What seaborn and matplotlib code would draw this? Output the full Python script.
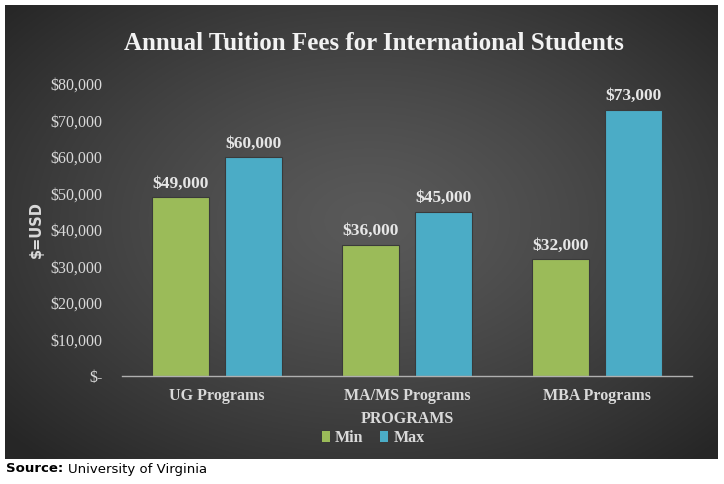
import numpy as np
import pandas as pd
import matplotlib
matplotlib.use("Agg")
import matplotlib.pyplot as plt
from matplotlib.ticker import FuncFormatter
from matplotlib.patches import Patch
import seaborn as sns

categories = ["UG Programs", "MA/MS Programs", "MBA Programs"]
series_names = ["Min", "Max"]
min_values = [49000, 36000, 32000]
max_values = [60000, 45000, 73000]
tick_values = [0, 10000, 20000, 30000, 40000, 50000, 60000, 70000, 80000]

df = pd.DataFrame({
    "program": categories * 2,
    "series": ["Min"] * 3 + ["Max"] * 3,
    "value": min_values + max_values,
})

sns.set_theme(style="white")
plt.rcParams["font.family"] = ["Liberation Serif", "DejaVu Serif"]

W, H = 724, 484
fig = plt.figure(figsize=(W / 100, H / 100), dpi=100, facecolor="white")

# dark radial gradient background panel
bg = fig.add_axes([5 / W, 1 - 459 / H, 713 / W, 454 / H])
gx, gy = np.meshgrid(np.linspace(-1, 1, 400), np.linspace(-1, 1, 260))
r = np.sqrt(((gx - 0.02) / 1.05) ** 2 + ((gy + 0.05) / 1.1) ** 2)
r = np.clip(r, 0, 1.3) / 1.3
val = 0.35 - 0.2 * r ** 1.3
bg.imshow(np.dstack([val, val, val]), aspect="auto", extent=[0, 1, 0, 1])
bg.set_axis_off()

colors = {"Min": "#9bbb59", "Max": "#4bacc6"}
ax = fig.add_axes([122 / W, 1 - 376 / H, 570 / W, 292 / H])
ax.patch.set_alpha(0)
sns.barplot(data=df, x="program", y="value", hue="series", order=categories,
            hue_order=series_names, palette=colors, width=0.774, gap=0.22,
            ax=ax, legend=False, edgecolor="#3a3a3a", linewidth=0.8, saturation=1)

ax.set_ylim(0, 80000)
ax.set_xlim(-0.5, 2.5)
ax.set_yticks(tick_values)
ax.yaxis.set_major_formatter(FuncFormatter(lambda v, p: "$-" if v == 0 else f"${v:,.0f}"))
for s in ["top", "right", "left"]:
    ax.spines[s].set_visible(False)
ax.spines["bottom"].set_color("#b0b0b0")
ax.spines["bottom"].set_linewidth(1)
ax.tick_params(axis="y", length=0, pad=14, labelsize=11.5, labelcolor="#d9d9d9")
ax.tick_params(axis="x", length=0, pad=9, labelsize=11.5, labelcolor="#d9d9d9")
for lbl in ax.get_xticklabels():
    lbl.set_fontweight("bold")
ax.set_xlabel("PROGRAMS", fontsize=11.5, fontweight="bold", color="#d9d9d9", labelpad=5)
ax.set_ylabel("$=USD", fontsize=10.5, fontweight="bold", color="#d9d9d9",
              family="DejaVu Sans", labelpad=5)
ax.grid(False)

for cont in ax.containers:
    ax.bar_label(cont, labels=[f"${v:,.0f}" for v in cont.datavalues], padding=4,
                 fontsize=12.5, fontweight="bold", color="#e6e6e6")

fig.text(374 / W, 1 - 44 / H, "Annual Tuition Fees for International Students",
         ha="center", va="center", fontsize=18, fontweight="bold", color="#f2f2f2")

handles = [Patch(facecolor=colors[s], edgecolor="none") for s in series_names]
leg = fig.legend(handles, series_names, loc="center", bbox_to_anchor=(373 / W, 1 - 438 / H),
                 ncol=2, frameon=False, handlelength=0.55, handleheight=0.75,
                 handletextpad=0.3, columnspacing=1.0,
                 prop={"weight": "bold", "size": 11.5})
for t in leg.get_texts():
    t.set_color("#d9d9d9")

fig.text(6 / W, 1 - 469 / H, "Source:", ha="left", va="center", fontsize=9.5,
         fontweight="bold", color="black", family="DejaVu Sans")
fig.text(68 / W, 1 - 469 / H, "University of Virginia", ha="left", va="center",
         fontsize=9.5, color="black", family="DejaVu Sans")

fig.savefig("out.png", dpi=100, facecolor="white")
